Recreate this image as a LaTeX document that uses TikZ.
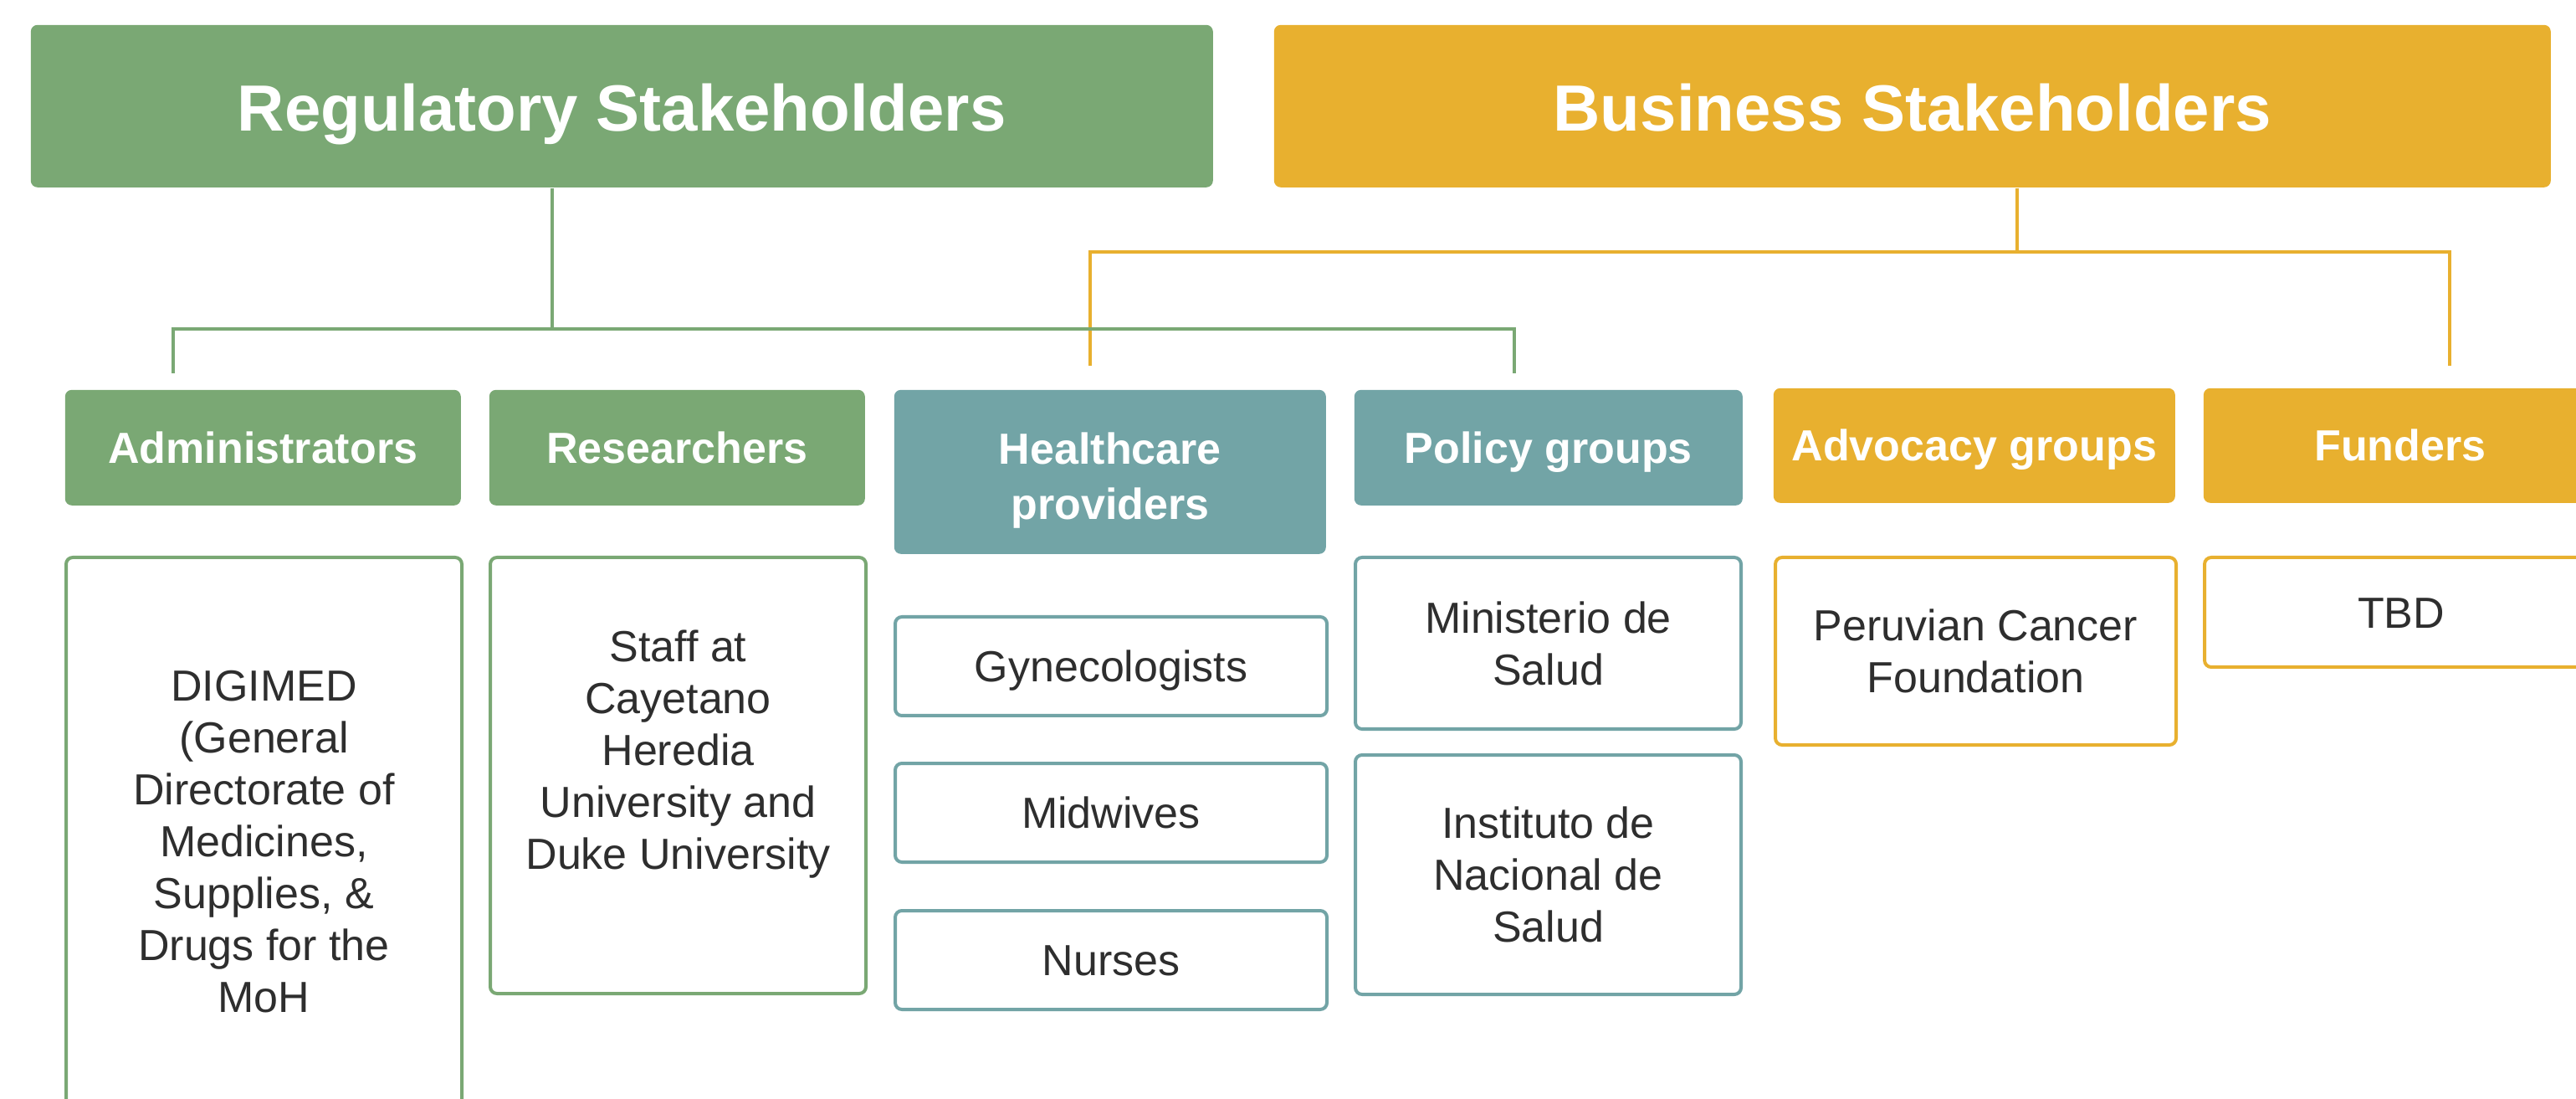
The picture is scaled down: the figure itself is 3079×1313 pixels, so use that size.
\documentclass[tikz,border=0pt]{standalone}
\usepackage{fontspec}
\setmainfont{Liberation Sans}
\usetikzlibrary{positioning}

\definecolor{regGreen}{HTML}{7AA874}
\definecolor{bizGold}{HTML}{E8B02F}
\definecolor{polTeal}{HTML}{72A4A6}
\definecolor{textGray}{HTML}{2E2E2E}

\begin{document}
\begin{tikzpicture}[x=0.25pt,y=-0.25pt]
\tikzset{
    header/.style={rectangle, fill=#1, text=white, rounded corners=2pt, anchor=north west, inner sep=0pt, minimum height=48.5pt, text height=18pt, text depth=3pt, font=\fontsize{19.5}{23}\selectfont\bfseries},
    group/.style={rectangle, fill=#1, text=white, rounded corners=2pt, anchor=north west, inner sep=0pt, align=center, font=\fontsize{13}{16.5}\selectfont\bfseries},
    member/.style={rectangle, draw=#1, line width=1pt, fill=white, text=textGray, rounded corners=2pt, anchor=north west, inner sep=0pt, align=center, font=\fontsize{13}{15.5}\selectfont},
    oneline/.style={text height=11.8pt, text depth=2.5pt},
    link/.style={draw=#1, line width=0.8pt}
}
\useasboundingbox[fill=white] (0,0) rectangle (3079,1313);

% top level
\node[header=regGreen, minimum width=353.25pt] (reg) at (36,29) {Regulatory Stakeholders};
\node[header=bizGold, minimum width=381.5pt] (biz) at (1522,29) {Business Stakeholders};

% stakeholder groups
\node[group=regGreen, oneline, minimum width=118.25pt, minimum height=34.5pt] (admin) at (77,465) {Administrators};
\node[group=regGreen, oneline, minimum width=112.25pt, minimum height=34.5pt] (research) at (584,465) {Researchers};
\node[group=polTeal, minimum width=129pt, minimum height=49pt] (providers) at (1068,465) {\rule{0pt}{14.5pt}Healthcare\\providers};
\node[group=polTeal, oneline, minimum width=116pt, minimum height=34.5pt] (policy) at (1618,465) {Policy groups};
\node[group=bizGold, oneline, minimum width=120pt, minimum height=34.25pt] (advocacy) at (2119,463) {Advocacy groups};
\node[group=bizGold, oneline, minimum width=117.5pt, minimum height=34.25pt] (funders) at (2633,463) {Funders};

% members
\node[member=regGreen, minimum width=118.25pt, minimum height=170pt] (digimed) at (77,664) {DIGIMED\\(General\\Directorate of\\Medicines,\\Supplies, \&\\Drugs for the\\MoH};
\node[member=regGreen, minimum width=112.25pt, minimum height=130.25pt] (staff) at (584,664) {Staff at\\Cayetano\\Heredia\\University and\\Duke University\\~};
\node[member=polTeal, oneline, minimum width=129pt, minimum height=29.5pt] (gyneco) at (1068,735) {Gynecologists};
\node[member=polTeal, oneline, minimum width=129pt, minimum height=29.5pt] (midwives) at (1068,910) {Midwives};
\node[member=polTeal, oneline, minimum width=129pt, minimum height=29.5pt] (nurses) at (1068,1086) {Nurses};
\node[member=polTeal, minimum width=115.25pt, minimum height=51.25pt] (minsa) at (1618,664) {Ministerio de\\Salud};
\node[member=polTeal, minimum width=115.25pt, minimum height=71.5pt] (ins) at (1618,900) {Instituto de\\Nacional de\\Salud};
\node[member=bizGold, minimum width=119.75pt, minimum height=56pt] (cancer) at (2120,664) {Peruvian Cancer\\Foundation};
\node[member=bizGold, oneline, minimum width=117.5pt, minimum height=32.75pt] (tbd) at (2633,664) {TBD};

% connectors
\coordinate (regJoin) at (660,393);
\coordinate (bizJoin) at (2411,301);
\coordinate (adminDrop) at (207,446);
\coordinate (policyDrop) at (1810,446);
\coordinate (providersDrop) at (1303,437);
\coordinate (fundersDrop) at (2928,437);

\draw[link=bizGold] (biz.south -| bizJoin) -- (bizJoin);
\draw[link=bizGold] (providersDrop) -- (providersDrop |- bizJoin) -- (fundersDrop |- bizJoin) -- (fundersDrop);
\draw[link=regGreen] (reg.south -| regJoin) -- (regJoin);
\draw[link=regGreen] (adminDrop) -- (adminDrop |- regJoin) -- (policyDrop |- regJoin) -- (policyDrop);
\end{tikzpicture}
\end{document}
